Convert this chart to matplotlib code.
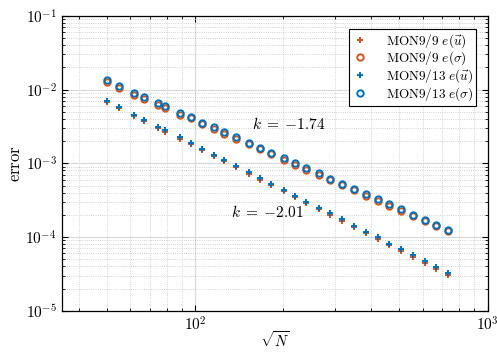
import numpy as np
import matplotlib
matplotlib.use('Agg')
from matplotlib import pyplot as plt

plt.rcParams['font.family'] = 'serif'
plt.rcParams['font.serif'] = ['cmr10', 'DejaVu Serif']
plt.rcParams['mathtext.fontset'] = 'cm'
plt.rcParams['axes.formatter.use_mathtext'] = True

# sqrt(N)
sqrtN = [50, 55, 62, 67, 75, 79, 89, 97, 106, 116, 126, 138, 153, 167, 182,
         201, 220, 240, 265, 289, 319, 350, 383, 421, 461, 507, 556, 609, 669, 734]

# MON9/13 (blue, drawn on top)
u_13 = [7.02e-3, 5.82e-3, 4.53e-3, 3.87e-3, 3.15e-3, 2.81e-3, 2.25e-3, 1.91e-3,
        1.57e-3, 1.30e-3, 1.11e-3, 9.29e-4, 7.55e-4, 6.25e-4, 5.30e-4, 4.35e-4,
        3.60e-4, 3.02e-4, 2.50e-4, 2.09e-4, 1.74e-4, 1.43e-4, 1.18e-4, 9.89e-5,
        8.12e-5, 6.81e-5, 5.64e-5, 4.67e-5, 3.87e-5, 3.21e-5]
s_13 = [1.339e-2, 1.122e-2, 9.02e-3, 7.95e-3, 6.59e-3, 6.00e-3, 4.82e-3, 4.30e-3,
        3.56e-3, 3.08e-3, 2.66e-3, 2.28e-3, 1.91e-3, 1.63e-3, 1.40e-3, 1.17e-3,
        1.00e-3, 8.55e-4, 7.31e-4, 6.19e-4, 5.30e-4, 4.53e-4, 3.84e-4, 3.25e-4,
        2.78e-4, 2.37e-4, 2.01e-4, 1.72e-4, 1.47e-4, 1.26e-4]

# MON9/9 (orange, a hair lower)
u_9 = [6.75e-3, 5.60e-3, 4.35e-3, 3.72e-3, 3.03e-3, 2.70e-3, 2.16e-3, 1.84e-3,
       1.51e-3, 1.25e-3, 1.07e-3, 8.93e-4, 7.26e-4, 6.01e-4, 5.10e-4, 4.18e-4,
       3.46e-4, 2.90e-4, 2.40e-4, 2.01e-4, 1.67e-4, 1.37e-4, 1.13e-4, 9.50e-5,
       7.80e-5, 6.54e-5, 5.42e-5, 4.49e-5, 3.72e-5, 3.08e-5]
s_9 = [1.27e-2, 1.065e-2, 8.57e-3, 7.55e-3, 6.26e-3, 5.70e-3, 4.58e-3, 4.08e-3,
       3.38e-3, 2.93e-3, 2.53e-3, 2.17e-3, 1.81e-3, 1.55e-3, 1.33e-3, 1.11e-3,
       9.50e-4, 8.12e-4, 6.94e-4, 5.88e-4, 5.03e-4, 4.30e-4, 3.65e-4, 3.09e-4,
       2.64e-4, 2.25e-4, 1.91e-4, 1.63e-4, 1.40e-4, 1.20e-4]

orange = '#D95319'
blue = '#0072BD'

fig = plt.figure(figsize=(4.97, 3.52), dpi=100)
ax = fig.add_axes([0.124, 0.117, 0.857, 0.838])

ax.plot(sqrtN, u_9, '+', color=orange, ms=5, mew=1.4, label=r'$\mathrm{MON9/9}\ e(\vec{u})$')
ax.plot(sqrtN, s_9, 'o', color=orange, mfc='none', ms=4.6, mew=1.4, label=r'$\mathrm{MON9/9}\ e(\sigma)$')
ax.plot(sqrtN, u_13, '+', color=blue, ms=5, mew=1.4, label=r'$\mathrm{MON9/13}\ e(\vec{u})$')
ax.plot(sqrtN, s_13, 'o', color=blue, mfc='none', ms=4.6, mew=1.4, label=r'$\mathrm{MON9/13}\ e(\sigma)$')

ax.set_xscale('log')
ax.set_yscale('log')
ax.set_xlim(35, 1000)
ax.set_ylim(1e-5, 1e-1)

# matlab-like grid and box
ax.grid(True, which='major', color='#d8d8d8', lw=0.8, ls='-')
ax.grid(True, which='minor', color='#c4c4c4', lw=0.6, ls=':')
ax.set_axisbelow(True)
ax.tick_params(which='both', direction='in', top=True, right=True, labelsize=11)
ax.tick_params(which='major', length=4, width=0.8)
ax.tick_params(which='minor', length=2.5, width=0.6)
for s in ax.spines.values():
    s.set_linewidth(0.9)

ax.set_xlabel(r'$\sqrt{N}$', fontsize=10.5, labelpad=-3)
ax.set_ylabel(r'$\mathrm{error}$', fontsize=12, labelpad=2)

ax.text(157, 3.42e-3, r'$k\;=\;{-1.74}$', fontsize=11, va='center', ha='left')
ax.text(133, 2.18e-4, r'$k\;=\;{-2.01}$', fontsize=11, va='center', ha='left')

leg = ax.legend(loc='upper right', bbox_to_anchor=(476 / 497, 1 - 28.5 / 352),
                bbox_transform=fig.transFigure, borderaxespad=0, fontsize=9.5,
                fancybox=False, framealpha=1, edgecolor='black',
                handlelength=1.2, handletextpad=1.3, labelspacing=0.0,
                borderpad=0.25)
leg.get_frame().set_linewidth(0.8)

fig.savefig('out.png', dpi=100)
